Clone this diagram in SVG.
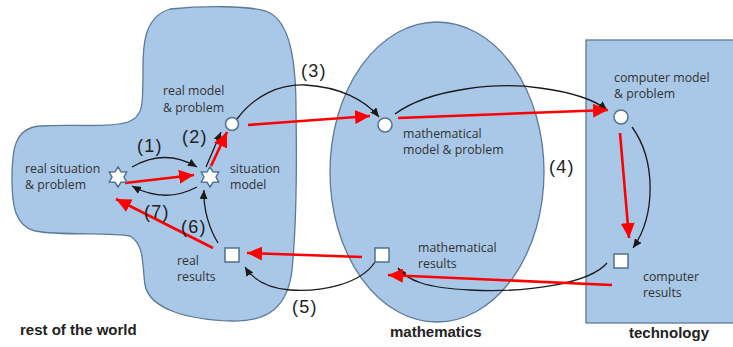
<svg xmlns="http://www.w3.org/2000/svg" width="733" height="347" viewBox="0 0 733 347">
<defs>
<style>
.region{fill:#a9c7e7;stroke:#5d7a98;stroke-width:1.3}
.node{fill:#fff;stroke:#53708f;stroke-width:1.5}
.lbl{font-family:"Open Sans","Liberation Sans",sans-serif;font-size:12.3px;fill:#333}
.num{font-family:"Liberation Sans",Arial,sans-serif;font-size:18px;letter-spacing:1.2px;fill:#222}
.title{font-family:"Liberation Sans",Arial,sans-serif;font-size:15px;font-weight:bold;fill:#222}
.blk{fill:none;stroke:#1a1a1a;stroke-width:1.3;marker-end:url(#ab)}
.red{fill:none;stroke:#f00;stroke-width:2.6;marker-end:url(#ar)}
</style>
<marker id="ab" markerUnits="userSpaceOnUse" markerWidth="10" markerHeight="8" refX="9" refY="4" orient="auto"><path d="M0,0 L9,4 L0,8 Z" fill="#1a1a1a"/></marker>
<marker id="ar" markerUnits="userSpaceOnUse" markerWidth="16" markerHeight="14" refX="15" refY="7" orient="auto"><path d="M0,0 L15,7 L0,14 Z" fill="#f00"/></marker>
</defs>
<rect width="733" height="347" fill="#fff"/>
<g id="rest-of-world">
<path class="region" d="M170,9 C200,6 250,5 268,12 C290,22 296,60 296,110 C297,170 296,230 292,270 C288,305 270,322 232,321 C190,320 150,310 145,285 C142,265 145,245 130,236 C110,232 60,236 35,231 C15,226 12,205 12,180 C12,150 14,128 40,126 C70,124 110,128 128,122 C145,116 142,100 143,80 C143,55 140,18 170,9 Z"/>
<text class="title" x="20" y="335">rest of the world</text>
</g>
<g id="mathematics">
<ellipse class="region" cx="437" cy="172" rx="107" ry="150"/>
<text class="title" x="390" y="337">mathematics</text>
</g>
<g id="technology">
<rect class="region" x="586" y="40" width="160" height="283"/>
<text class="title" x="629" y="338">technology</text>
</g>
<g id="connectors">
<path class="blk" d="M132,167 Q165,148 197,167"/>
<path class="blk" d="M197,187 Q165,204 132,186"/>
<path class="blk" d="M206,167 L221,132"/>
<path class="blk" d="M218,243 C210,230 203,210 204,190"/>
<path class="blk" d="M237,119 C255,95 280,84 305,85 C340,87 365,100 379,117"/>
<path class="blk" d="M395,114 C430,88 500,82 540,88 C570,92 595,100 607,110"/>
<path class="blk" d="M632,127 C656,160 656,215 633,248"/>
<path class="blk" d="M607,263 C590,283 530,293 470,290 C425,288 407,280 398,268"/>
<path class="blk" d="M375,262 C360,285 320,292 290,290 C265,288 252,278 245,267"/>
<path class="red" d="M125,183 L194,175"/>
<path class="red" d="M211,166 L227,132"/>
<path class="red" d="M248,125 L370,116"/>
<path class="red" d="M398,118 L608,110"/>
<path class="red" d="M620,133 L629,238"/>
<path class="red" d="M612,285 L388,275"/>
<path class="red" d="M362,257 L247,253"/>
<path class="red" d="M213,248 L116,199"/>
<text class="num" x="137" y="152">(1)</text>
<text class="num" x="182" y="143">(2)</text>
<text class="num" x="301" y="77">(3)</text>
<text class="num" x="549" y="173">(4)</text>
<text class="num" x="292" y="313">(5)</text>
<text class="num" x="181" y="233">(6)</text>
<text class="num" x="144" y="218">(7)</text>
</g>
<g id="real-situation">
<path class="node" transform="translate(118,177)" d="M0,-10 L3,-5.2 L8.7,-5 L6,0 L8.7,5 L3,5.2 L0,10 L-3,5.2 L-8.7,5 L-6,0 L-8.7,-5 L-3,-5.2 Z"/>
<text class="lbl" x="25" y="173">real situation</text>
<text class="lbl" x="25" y="189">&amp; problem</text>
</g>
<g id="situation-model">
<path class="node" transform="translate(210,177)" d="M0,-10 L3,-5.2 L8.7,-5 L6,0 L8.7,5 L3,5.2 L0,10 L-3,5.2 L-8.7,5 L-6,0 L-8.7,-5 L-3,-5.2 Z"/>
<text class="lbl" x="230" y="173">situation</text>
<text class="lbl" x="230" y="189">model</text>
</g>
<g id="real-model">
<circle class="node" cx="232" cy="124" r="6.5"/>
<text class="lbl" x="163" y="95">real model</text>
<text class="lbl" x="163" y="112">&amp; problem</text>
</g>
<g id="real-results">
<rect class="node" x="225" y="248" width="14" height="14"/>
<text class="lbl" x="177" y="265">real</text>
<text class="lbl" x="177" y="281">results</text>
</g>
<g id="math-model">
<circle class="node" cx="385" cy="125" r="7"/>
<text class="lbl" x="403" y="138">mathematical</text>
<text class="lbl" x="403" y="154">model &amp; problem</text>
</g>
<g id="math-results">
<rect class="node" x="375" y="248" width="14" height="14"/>
<text class="lbl" x="418" y="252">mathematical</text>
<text class="lbl" x="418" y="268">results</text>
</g>
<g id="computer-model">
<circle class="node" cx="621" cy="117" r="7"/>
<text class="lbl" x="614" y="82">computer model</text>
<text class="lbl" x="614" y="98">&amp; problem</text>
</g>
<g id="computer-results">
<rect class="node" x="614" y="254" width="14" height="14"/>
<text class="lbl" x="643" y="281">computer</text>
<text class="lbl" x="643" y="297">results</text>
</g>
</svg>
